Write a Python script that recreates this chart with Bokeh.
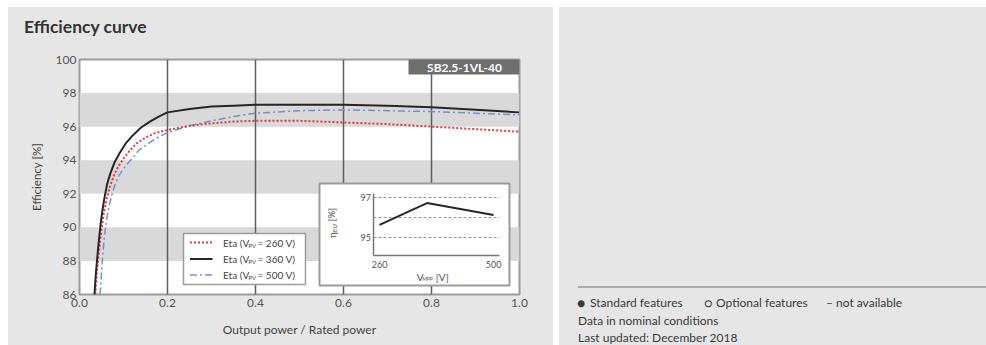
import math
from bokeh.plotting import figure
from bokeh.models import Range1d, FixedTicker, NumeralTickFormatter, Spacer, Div
from bokeh.layouts import row, column
from bokeh.embed import file_html
from bokeh.resources import INLINE
from bokeh.core.properties import value

# ---------------- data ----------------
x_ticks = [0.0, 0.2, 0.4, 0.6, 0.8, 1.0]
y_ticks = [86, 88, 90, 92, 94, 96, 98, 100]
band_lo = [88, 92, 96]
band_hi = [90, 94, 98]
vgrid = [0.2, 0.4, 0.6, 0.8]

# Eta (V_PV = 260 V)
x260 = [0.036, 0.039, 0.042, 0.046, 0.050, 0.055, 0.062, 0.070, 0.080, 0.090, 0.10,
        0.115, 0.13, 0.15, 0.17, 0.2, 0.25, 0.3, 0.35, 0.4, 0.5, 0.6, 0.7, 0.8, 0.9, 1.0]
y260 = [86.0, 87.2, 88.0, 89.0, 89.9, 90.8, 91.7, 92.5, 93.2, 93.7, 94.1,
        94.6, 95.0, 95.35, 95.6, 95.8, 96.05, 96.2, 96.3, 96.35, 96.35, 96.25, 96.15, 96.0, 95.85, 95.7]
# Eta (V_PV = 360 V)
x360 = [0.034, 0.037, 0.040, 0.044, 0.048, 0.052, 0.057, 0.063, 0.070, 0.080, 0.093, 0.105,
        0.12, 0.14, 0.16, 0.18, 0.2, 0.25, 0.3, 0.35, 0.4, 0.5, 0.6, 0.7, 0.8, 0.9, 1.0]
y360 = [86.0, 87.2, 88.1, 89.2, 90.2, 91.0, 91.8, 92.6, 93.2, 93.9, 94.5, 95.0,
        95.45, 95.95, 96.3, 96.6, 96.85, 97.05, 97.2, 97.25, 97.3, 97.3, 97.3, 97.25, 97.15, 97.0, 96.85]
# Eta (V_PV = 500 V)
x500 = [0.047, 0.050, 0.053, 0.056, 0.060, 0.065, 0.072, 0.080, 0.090, 0.10, 0.116, 0.135,
        0.157, 0.18, 0.2, 0.25, 0.3, 0.35, 0.4, 0.5, 0.6, 0.7, 0.8, 0.9, 1.0]
y500 = [86.0, 87.3, 88.4, 89.3, 90.2, 91.0, 91.8, 92.5, 93.1, 93.5, 94.0, 94.6,
        95.0, 95.4, 95.65, 96.05, 96.35, 96.6, 96.8, 96.95, 97.0, 96.95, 96.9, 96.8, 96.7]

legend_volts = ["260 V", "360 V", "500 V"]

# inset: European efficiency vs MPP voltage
inset_v = [260, 360, 500]
inset_eta = [95.63, 96.72, 96.12]
inset_grid = [95, 96, 97]
inset_xticks = [260, 500]
inset_yticks = [95, 97]

chart_title = "Efficiency curve"
model_name = "SB2.5-1VL-40"
notes_row1 = ["\u25cf", "Standard features", "\u25cb", "Optional features", "\u2013", "not available"]
notes_more = ["Data in nominal conditions", "Last updated: December 2018"]

# ---------------- styling ----------------
PANEL = "#e6e6e6"
FONT = "Lato"
TITLE_H = 38
PH = 300          # plot height (page y 45..345)

title_div = Div(
    text=(f'<div style="position:relative;width:545px;height:{TITLE_H + 2}px;background:{PANEL};">'
          f'<span style="position:absolute;left:16px;top:9px;font-family:Lato,sans-serif;'
          f'font-weight:bold;font-size:17.5px;line-height:22px;color:#333333;white-space:nowrap;">'
          f'{chart_title}</span></div>'),
    width=545, height=TITLE_H, margin=(0, 0, 0, 0),
    styles={"background-color": PANEL, "overflow": "hidden"})

p = figure(width=545, height=PH, x_range=Range1d(0, 1), y_range=Range1d(86, 100),
           output_backend="svg", toolbar_location=None,
           min_border_left=71, min_border_right=34, min_border_top=14, min_border_bottom=51)
p.border_fill_color = PANEL
p.background_fill_color = "white"
p.outline_line_color = "#9b9b9b"
p.outline_line_width = 2
p.xgrid.visible = False
p.ygrid.visible = False
# page-pixel helper ranges and inset ranges
p.extra_x_ranges = {"px": Range1d(79, 519), "ix": Range1d(-371.6, 554.7)}
p.extra_y_ranges = {"py": Range1d(294, 59), "iy": Range1d(92.15, 103.9)}

for ax in (p.xaxis, p.yaxis):
    ax.axis_line_color = None
    ax.major_tick_line_color = None
    ax.minor_tick_line_color = None
    ax.major_tick_out = 0
    ax.major_tick_in = 0
    ax.major_label_text_font = FONT
    ax.major_label_text_font_size = "12px"
    ax.major_label_text_color = "#555555"
    ax.axis_label_text_font = FONT
    ax.axis_label_text_font_style = "normal"
    ax.axis_label_text_color = "#444444"
p.xaxis.ticker = FixedTicker(ticks=x_ticks)
p.xaxis.formatter = NumeralTickFormatter(format="0.0")
p.yaxis.ticker = FixedTicker(ticks=y_ticks)
p.xaxis.major_label_standoff = 4
p.yaxis.major_label_standoff = 3
p.yaxis.axis_label = "Efficiency [%]"
p.yaxis.axis_label_text_font_size = "11.5px"
p.yaxis.axis_label_standoff = 10
p.xaxis.axis_label = "Output power / Rated power"
p.xaxis.axis_label_text_font_size = "12px"
p.xaxis.axis_label_standoff = 12

# bands and vertical grid
p.quad(left=0, right=1, bottom=band_lo, top=band_hi, fill_color="#d9d9d9", line_color=None)
p.segment(x0=vgrid, y0=86, x1=vgrid, y1=100, line_color="#5e5e5e", line_width=1.5)

# curves
p.line(x500, y500, line_color="#6f93cc", line_width=1.5, line_dash="7 3 2 3")
p.line(x260, y260, line_color="#e8363c", line_width=2, line_dash="2 2")
p.line(x360, y360, line_color="#262626", line_width=2)

# model label
p.quad(left=408, right=519, top=58, bottom=74, x_range_name="px", y_range_name="py",
       fill_color="#6e6e6e", line_color=None)
p.text(x=[464], y=[66.5], text=[model_name], x_range_name="px", y_range_name="py",
       text_font=value(FONT), text_font_size="12px", text_font_style="bold",
       text_color="white", text_align="center", text_baseline="middle")

# legend
rows_y = [242, 258.5, 274.5]
p.quad(left=183, right=305, top=233, bottom=284, x_range_name="px", y_range_name="py",
       fill_color="white", line_color="#9b9b9b", line_width=1.5)
p.segment(x0=[189.5], x1=[212], y0=[rows_y[0]], y1=[rows_y[0]], x_range_name="px", y_range_name="py",
          line_color="#e8363c", line_width=2, line_dash="2 2")
p.segment(x0=[189.5], x1=[212], y0=[rows_y[1]], y1=[rows_y[1]], x_range_name="px", y_range_name="py",
          line_color="#262626", line_width=2)
p.segment(x0=[189.5], x1=[212], y0=[rows_y[2]], y1=[rows_y[2]], x_range_name="px", y_range_name="py",
          line_color="#6f93cc", line_width=1.5, line_dash="7 3 2 3")
p.text(x=[222.5] * 3, y=rows_y, text=["Eta (V"] * 3, x_range_name="px", y_range_name="py",
       text_font=value(FONT), text_font_size="10px", text_color="#444444",
       text_align="left", text_baseline="middle")
p.text(x=[248] * 3, y=[r + 2.5 for r in rows_y], text=["PV"] * 3, x_range_name="px", y_range_name="py",
       text_font=value(FONT), text_font_size="6px", text_color="#444444",
       text_align="left", text_baseline="middle")
p.text(x=[257] * 3, y=rows_y, text=["= " + v + ")" for v in legend_volts], x_range_name="px", y_range_name="py",
       text_font=value(FONT), text_font_size="10px", text_color="#444444",
       text_align="left", text_baseline="middle")

# inset box
p.quad(left=319, right=509, top=183, bottom=285, x_range_name="px", y_range_name="py",
       fill_color="white", line_color="#9b9b9b", line_width=2)
p.segment(x0=247.4, x1=512.6, y0=inset_grid, y1=inset_grid, x_range_name="ix", y_range_name="iy",
          line_color="#9a9a9a", line_width=1, line_dash="3 2")
p.segment(x0=[247.4, 247.4], x1=[247.4, 512.6], y0=[94.1, 94.1], y1=[97.2, 94.1],
          x_range_name="ix", y_range_name="iy", line_color="#777777", line_width=1.5)
p.line(inset_v, inset_eta, x_range_name="ix", y_range_name="iy", line_color="#262626", line_width=2)
p.text(x=[370.5] * len(inset_yticks), y=inset_yticks, text=[str(t) for t in inset_yticks],
       x_range_name="px", y_range_name="iy", text_font=value(FONT), text_font_size="9px",
       text_color="#555555", text_align="right", text_baseline="middle")
p.text(x=inset_xticks, y=[264] * len(inset_xticks), text=[str(t) for t in inset_xticks],
       x_range_name="ix", y_range_name="py", text_font=value(FONT), text_font_size="9px",
       text_color="#555555", text_align="center", text_baseline="middle")
# inset axis titles
p.text(x=[331, 333.5, 331], y=[234.5, 227.5, 214], text=["\u03b7", "EU", "[%]"],
       x_range_name="px", y_range_name="py", text_font=value(FONT),
       text_font_size=["10px", "6px", "9.5px"], angle=math.pi / 2,
       text_color="#555555", text_align="center", text_baseline="middle")
p.text(x=[419.7, 427, 441.7], y=[276, 278.5, 276], text=["V", "MPP", "[V]"],
       x_range_name="px", y_range_name="py", text_font=value(FONT),
       text_font_size=["10px", "5px", "10px"],
       text_color="#555555", text_align="center", text_baseline="middle")

left = column(title_div, p, spacing=0, styles={"background-color": PANEL})

# ---------------- right panel (HTML) ----------------
H = TITLE_H + PH

def span(txt, lft, top, size=12):
    return (f'<span style="position:absolute;left:{lft}px;top:{top}px;font-size:{size}px;'
            f'line-height:14px;white-space:nowrap;">{txt}</span>')

parts = [
    '<div style="position:absolute;left:19px;top:279px;width:408px;height:2px;background:#a9a9a9;"></div>',
    span(notes_row1[0], 18, 289, 14), span(notes_row1[1], 31, 289),
    span(notes_row1[2], 145, 289, 13), span(notes_row1[3], 157, 289),
    span(notes_row1[4], 267, 289), span(notes_row1[5], 277, 289),
    span(notes_more[0], 19, 307), span(notes_more[1], 19, 324),
]
html = (f'<div style="position:relative;width:427px;height:{H}px;background:{PANEL};'
        f'font-family:Lato,sans-serif;color:#3a3a3a;overflow:hidden;">' + "".join(parts) + '</div>')
right = Div(text=html, width=427, height=H, margin=(0, 0, 0, 0),
            styles={"background-color": PANEL})

layout = column(Spacer(width=986, height=7),
                row(Spacer(width=8, height=H), left, Spacer(width=6, height=H), right))
open("out.html", "w").write(file_html(layout, INLINE))
